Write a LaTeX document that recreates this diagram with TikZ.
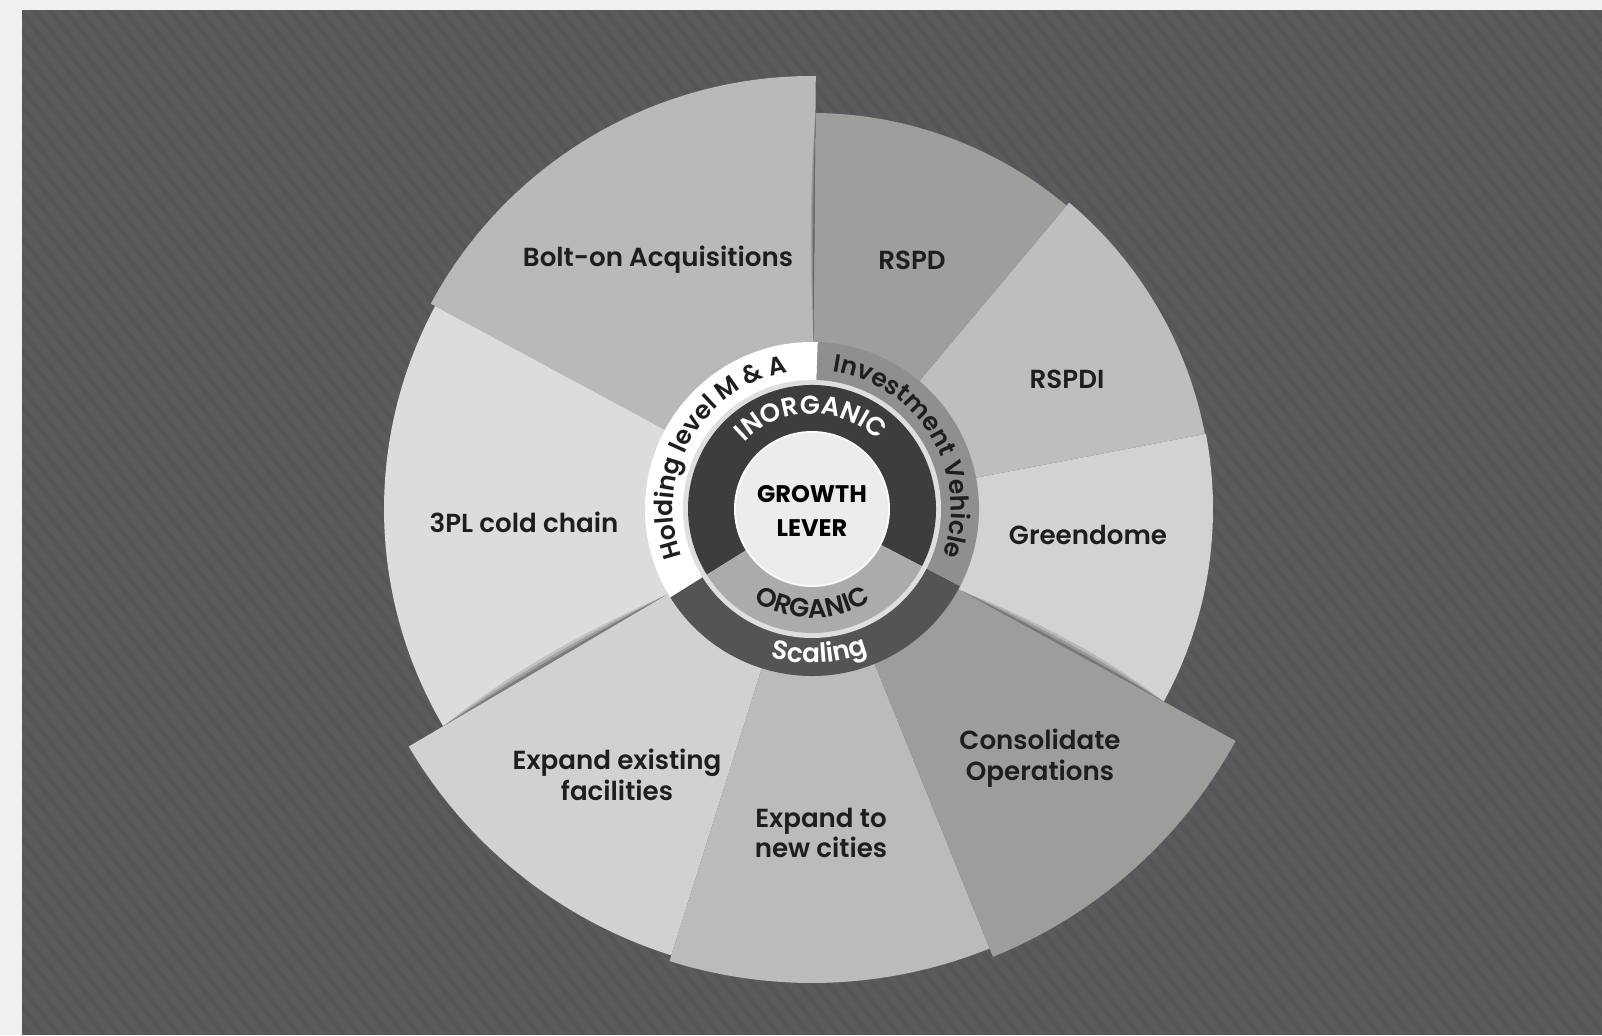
\documentclass[tikz,border=0pt]{standalone}
\usepackage{fontspec}
\setmainfont{Poppins}
\newfontfamily\popsemi{Poppins SemiBold}
\newfontfamily\popbold{Poppins Bold}
\usetikzlibrary{decorations.text}
\definecolor{bgdark}{RGB}{85,86,88}
\definecolor{bglight}{RGB}{240,240,240}
\definecolor{cBolt}{RGB}{185,185,185}
\definecolor{cRSPD}{RGB}{158,158,156}
\definecolor{cRSPDI}{RGB}{190,190,190}
\definecolor{cGreen}{RGB}{210,210,210}
\definecolor{cCons}{RGB}{157,157,155}
\definecolor{cNew}{RGB}{187,187,187}
\definecolor{cExist}{RGB}{209,209,209}
\definecolor{cThreePL}{RGB}{220,220,220}
\definecolor{cInvest}{RGB}{143,143,143}
\definecolor{cScaling}{RGB}{84,84,84}
\definecolor{cInorg}{RGB}{61,61,61}
\definecolor{cOrg}{RGB}{171,171,171}
\definecolor{cCenter}{RGB}{236,236,236}
\definecolor{cSep}{RGB}{222,222,222}
\definecolor{txtdark}{RGB}{30,30,30}
\newcommand\shadowlens[4]{%
  \foreach \f/\o in {1/0.12,0.66/0.16,0.33/0.22}{%
    \fill[black,opacity=\o] (#1:#2) .. controls ({#1+#4*\f}:{#2+(#3-#2)*0.33}) and ({#1+#4*\f}:{#2+(#3-#2)*0.66}) .. (#1:#3) -- cycle;}}
\tikzset{
  lbl/.style={text=txtdark,align=center,font=\popsemi\fontsize{19.6}{23}\selectfont}
}
\begin{document}
\begin{tikzpicture}[x=0.75pt,y=0.75pt]
\useasboundingbox (0,0) rectangle (1602,1035);
\fill[bglight] (0,0) rectangle (1602,1035);
\fill[bgdark] (22,0) rectangle (1602,1025);
\begin{scope}
\clip (0,0) rectangle (1602,1035);
\foreach \k in {-62,...,108}{
  \draw[white,opacity=0.03,line width=5] (\k*15,1040) -- ++(900,-1125);
}
\end{scope}
\begin{scope}[shift={(812,526)}]
% outer sectors
\fill[cBolt]   (0,0) -- (89.5:433) arc[start angle=89.5, end angle=151.7, radius=433] -- cycle;
\fill[cThreePL](0,0) -- (151.7:428) arc[start angle=151.7, end angle=210.5, radius=428] -- cycle;
\fill[cExist]  (0,0) -- (210.5:468) arc[start angle=210.5, end angle=252.5, radius=468] -- cycle;
\fill[cNew]    (0,0) -- (252.5:474) arc[start angle=252.5, end angle=292, radius=474] -- cycle;
\fill[cCons]   (0,0) -- (292:483) arc[start angle=292, end angle=331.3, radius=483] -- cycle;
\fill[cGreen]  (0,0) -- (331.3:401) arc[start angle=331.3, end angle=370.8, radius=401] -- cycle;
\fill[cRSPDI]  (0,0) -- (10.8:400) arc[start angle=10.8, end angle=50, radius=400] -- cycle;
\fill[cRSPD]   (0,0) -- (50:396) arc[start angle=50, end angle=89.5, radius=396] -- cycle;
% shadows
\shadowlens{89.5}{170}{396}{1.0}
\shadowlens{210.5}{170}{428}{-2.2}
\shadowlens{331.3}{170}{401}{2.2}
% middle band
\fill[white]    (0,0) -- (88:167) arc[start angle=88, end angle=212, radius=167] -- cycle;
\fill[cScaling] (0,0) -- (212:167) arc[start angle=212, end angle=332.5, radius=167] -- cycle;
\fill[cInvest]  (0,0) -- (332.5:167) arc[start angle=332.5, end angle=448, radius=167] -- cycle;
\fill[cSep] (0,0) circle[radius=129];
% inner ring
\fill[cInorg] (0,0) -- (332.5:124) arc[start angle=332.5, end angle=572, radius=124] -- cycle;
\fill[cOrg]   (0,0) -- (212:124) arc[start angle=212, end angle=332.5, radius=124] -- cycle;
\fill[cCenter,draw=white!70!cCenter,line width=1.5pt] (0,0) circle[radius=77];
% curved texts
\path[decorate,decoration={text along path,text align=center,
  text={|\popsemi\fontsize{18.8}{18}\selectfont\color{txtdark}|Holding level M {\&} A}}]
  (215:139) arc[start angle=215, end angle=85, radius=139];
\path[decorate,decoration={text along path,text align=center,
  text={|\popsemi\fontsize{18.8}{18}\selectfont\color{txtdark}|Investment Vehicle}}]
  (92:139) arc[start angle=92, end angle=-30, radius=139];
\path[decorate,decoration={text along path,text align=center,
  text={|\popsemi\fontsize{19.8}{18}\selectfont\color{white}|Scaling}}]
  (240:154) arc[start angle=240, end angle=306, radius=154];
\path[decorate,decoration={text along path,text align=center,
  text={|\popsemi\fontsize{19.5}{18}\selectfont\color{white}|INORGANIC}}]
  (150:95) arc[start angle=150, end angle=31.4, radius=95];
\path[decorate,decoration={text along path,text align=center,
  text={|\popsemi\fontsize{19.8}{18}\selectfont\color{txtdark}|ORGANIC}}]
  (205:109) arc[start angle=205, end angle=335.4, radius=109];
\end{scope}
% labels
\node[lbl] (bolt) at (658,775) {Bolt-on Acquisitions};
\node[lbl] (rspd) at (912,775) {RSPD};
\node[lbl] (rspdi) at (1067,656) {RSPDI};
\node[lbl] (green) at (1088,500) {Greendome};
\node[lbl] (tpl) at (524,513) {3PL cold chain};
\node[lbl] (exist) at (617,260) {Expand existing\\facilities};
\node[lbl] (newc) at (821,202) {Expand to\\new cities};
\node[lbl] (cons) at (1040,277) {Consolidate\\Operations};
\node[align=center,text=black,font=\popbold\fontsize{18}{26}\selectfont] (growth) at (812,524) {GROWTH\\LEVER};
\end{tikzpicture}
\end{document}
